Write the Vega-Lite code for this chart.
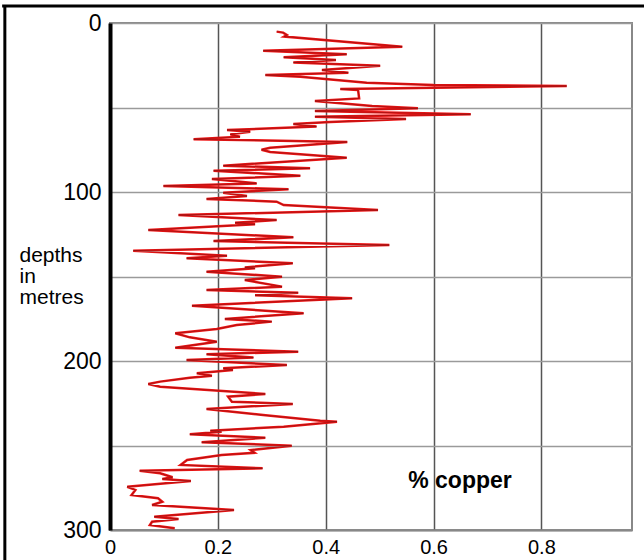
{
  "$schema": "https://vega.github.io/schema/vega-lite/v6.json",
  "width": 522,
  "height": 507,
  "autosize": "none",
  "padding": {"left": 110, "top": 23, "right": 12, "bottom": 30},
  "background": "white",
  "config": {
    "view": {"stroke": "#888888", "strokeWidth": 2},
    "font": "Liberation Sans"
  },
  "datasets": {
    "log": [
      {"depth": 5.1, "cu": 0.309},
      {"depth": 5.7, "cu": 0.321},
      {"depth": 7.1, "cu": 0.328},
      {"depth": 8.0, "cu": 0.323},
      {"depth": 14.0, "cu": 0.542},
      {"depth": 16.4, "cu": 0.284},
      {"depth": 18.5, "cu": 0.439},
      {"depth": 20.3, "cu": 0.322},
      {"depth": 21.9, "cu": 0.419},
      {"depth": 23.3, "cu": 0.340},
      {"depth": 25.3, "cu": 0.501},
      {"depth": 27.8, "cu": 0.393},
      {"depth": 29.4, "cu": 0.442},
      {"depth": 30.8, "cu": 0.288},
      {"depth": 31.8, "cu": 0.353},
      {"depth": 35.3, "cu": 0.476},
      {"depth": 36.7, "cu": 0.600},
      {"depth": 37.3, "cu": 0.847},
      {"depth": 39.1, "cu": 0.427},
      {"depth": 39.6, "cu": 0.460},
      {"depth": 44.6, "cu": 0.462},
      {"depth": 46.2, "cu": 0.380},
      {"depth": 49.1, "cu": 0.486},
      {"depth": 50.5, "cu": 0.571},
      {"depth": 52.1, "cu": 0.380},
      {"depth": 54.0, "cu": 0.669},
      {"depth": 55.4, "cu": 0.380},
      {"depth": 56.8, "cu": 0.549},
      {"depth": 58.6, "cu": 0.408},
      {"depth": 59.8, "cu": 0.340},
      {"depth": 61.3, "cu": 0.383},
      {"depth": 63.3, "cu": 0.217},
      {"depth": 64.3, "cu": 0.260},
      {"depth": 65.9, "cu": 0.223},
      {"depth": 67.3, "cu": 0.241},
      {"depth": 68.8, "cu": 0.155},
      {"depth": 70.4, "cu": 0.440},
      {"depth": 73.8, "cu": 0.297},
      {"depth": 75.0, "cu": 0.281},
      {"depth": 76.3, "cu": 0.297},
      {"depth": 79.7, "cu": 0.439},
      {"depth": 84.4, "cu": 0.210},
      {"depth": 86.0, "cu": 0.371},
      {"depth": 87.4, "cu": 0.192},
      {"depth": 90.4, "cu": 0.353},
      {"depth": 92.3, "cu": 0.189},
      {"depth": 94.9, "cu": 0.272},
      {"depth": 96.4, "cu": 0.099},
      {"depth": 98.4, "cu": 0.331},
      {"depth": 100.4, "cu": 0.210},
      {"depth": 102.4, "cu": 0.254},
      {"depth": 104.1, "cu": 0.179},
      {"depth": 105.7, "cu": 0.309},
      {"depth": 107.7, "cu": 0.322},
      {"depth": 110.7, "cu": 0.497},
      {"depth": 113.6, "cu": 0.127},
      {"depth": 116.6, "cu": 0.309},
      {"depth": 118.2, "cu": 0.232},
      {"depth": 119.1, "cu": 0.269},
      {"depth": 122.5, "cu": 0.071},
      {"depth": 126.8, "cu": 0.340},
      {"depth": 129.0, "cu": 0.192},
      {"depth": 131.4, "cu": 0.518},
      {"depth": 134.7, "cu": 0.043},
      {"depth": 137.7, "cu": 0.217},
      {"depth": 139.2, "cu": 0.142},
      {"depth": 142.2, "cu": 0.339},
      {"depth": 144.6, "cu": 0.250},
      {"depth": 145.1, "cu": 0.269},
      {"depth": 147.2, "cu": 0.179},
      {"depth": 150.1, "cu": 0.319},
      {"depth": 152.1, "cu": 0.250},
      {"depth": 156.0, "cu": 0.319},
      {"depth": 158.0, "cu": 0.179},
      {"depth": 159.6, "cu": 0.349},
      {"depth": 161.1, "cu": 0.269},
      {"depth": 162.9, "cu": 0.449},
      {"depth": 167.3, "cu": 0.152},
      {"depth": 171.8, "cu": 0.359},
      {"depth": 175.1, "cu": 0.213},
      {"depth": 176.7, "cu": 0.300},
      {"depth": 178.7, "cu": 0.235},
      {"depth": 181.1, "cu": 0.198},
      {"depth": 183.6, "cu": 0.121},
      {"depth": 186.0, "cu": 0.148},
      {"depth": 188.6, "cu": 0.198},
      {"depth": 192.1, "cu": 0.121},
      {"depth": 194.5, "cu": 0.349},
      {"depth": 196.0, "cu": 0.179},
      {"depth": 198.0, "cu": 0.266},
      {"depth": 199.4, "cu": 0.142},
      {"depth": 202.4, "cu": 0.328},
      {"depth": 204.3, "cu": 0.210},
      {"depth": 205.3, "cu": 0.228},
      {"depth": 207.3, "cu": 0.161},
      {"depth": 208.7, "cu": 0.189},
      {"depth": 209.9, "cu": 0.148},
      {"depth": 212.2, "cu": 0.093},
      {"depth": 213.6, "cu": 0.071},
      {"depth": 215.2, "cu": 0.093},
      {"depth": 219.5, "cu": 0.288},
      {"depth": 221.1, "cu": 0.219},
      {"depth": 224.1, "cu": 0.226},
      {"depth": 225.4, "cu": 0.339},
      {"depth": 228.4, "cu": 0.179},
      {"depth": 232.0, "cu": 0.284},
      {"depth": 235.3, "cu": 0.390},
      {"depth": 235.9, "cu": 0.421},
      {"depth": 238.9, "cu": 0.322},
      {"depth": 241.2, "cu": 0.186},
      {"depth": 241.8, "cu": 0.207},
      {"depth": 243.4, "cu": 0.148},
      {"depth": 245.4, "cu": 0.288},
      {"depth": 248.1, "cu": 0.170},
      {"depth": 250.1, "cu": 0.337},
      {"depth": 252.7, "cu": 0.261},
      {"depth": 254.3, "cu": 0.268},
      {"depth": 255.6, "cu": 0.207},
      {"depth": 258.6, "cu": 0.143},
      {"depth": 261.5, "cu": 0.131},
      {"depth": 263.5, "cu": 0.283},
      {"depth": 264.9, "cu": 0.055},
      {"depth": 266.4, "cu": 0.093},
      {"depth": 268.8, "cu": 0.116},
      {"depth": 269.8, "cu": 0.097},
      {"depth": 271.0, "cu": 0.150},
      {"depth": 274.4, "cu": 0.032},
      {"depth": 276.3, "cu": 0.047},
      {"depth": 279.3, "cu": 0.040},
      {"depth": 281.2, "cu": 0.089},
      {"depth": 283.3, "cu": 0.097},
      {"depth": 285.2, "cu": 0.078},
      {"depth": 288.2, "cu": 0.230},
      {"depth": 292.1, "cu": 0.082},
      {"depth": 293.5, "cu": 0.127},
      {"depth": 295.1, "cu": 0.078},
      {"depth": 297.0, "cu": 0.074},
      {"depth": 299.0, "cu": 0.120}
    ],
    "one": [{"label": "% copper"}]
  },
  "layer": [
    {
      "data": {"name": "log"},
      "mark": {"type": "line", "color": "#f01414", "strokeWidth": 2.5},
      "encoding": {
        "x": {
          "field": "cu", "type": "quantitative",
          "scale": {"domain": [0, 0.968], "nice": false, "zero": false},
          "axis": {
            "values": [0, 0.2, 0.4, 0.6, 0.8],
            "format": ".1~f",
            "title": null,
            "grid": true, "gridColor": "#555555", "gridWidth": 1.5, "gridOpacity": 1,
            "domainColor": "#888888", "domainWidth": 2,
            "ticks": false,
            "labelFontSize": 20, "labelColor": "#000000", "labelPadding": 7,
            "labelFlush": false, "labelOverlap": false, "labelBound": false
          }
        },
        "y": {
          "field": "depth", "type": "quantitative",
          "scale": {"domain": [0, 300], "nice": false, "reverse": true, "zero": false},
          "axis": {
            "values": [0, 50, 100, 150, 200, 250, 300],
            "labelExpr": "datum.value % 100 === 0 ? datum.label : ''",
            "title": ["depths", "in", "metres"],
            "titleAngle": 0, "titleAlign": "left", "titleBaseline": "alphabetic",
            "titleX": -91, "titleY": 238, "titleFontSize": 21, "titleFontWeight": "normal",
            "titleColor": "#000000", "titleLineHeight": 21,
            "grid": true, "gridColor": "#9a9a9a", "gridWidth": 1.5, "gridOpacity": 1,
            "domainColor": "#000000", "domainWidth": 4,
            "ticks": false,
            "labelFontSize": 23, "labelColor": "#000000", "labelPadding": 9,
            "labelFlush": false, "labelOverlap": false, "labelBound": false
          }
        },
        "order": {"field": "depth", "type": "quantitative"}
      }
    },
    {
      "data": {"name": "log"},
      "mark": {"type": "line", "color": "#5a1010", "strokeWidth": 0.6, "opacity": 0.7},
      "encoding": {
        "x": {"field": "cu", "type": "quantitative"},
        "y": {"field": "depth", "type": "quantitative"},
        "order": {"field": "depth", "type": "quantitative"}
      }
    },
    {
      "data": {"name": "one"},
      "mark": {"type": "text", "fontSize": 23, "fontWeight": "bold", "color": "#000000", "align": "center", "baseline": "middle"},
      "encoding": {
        "text": {"field": "label"},
        "x": {"datum": 0.649, "type": "quantitative"},
        "y": {"datum": 271, "type": "quantitative"}
      }
    },
    {
      "data": {"name": "one"},
      "mark": {"type": "rule", "color": "#000000", "strokeWidth": 3, "clip": false},
      "encoding": {
        "x": {"datum": -0.2, "type": "quantitative"},
        "x2": {"datum": 1.2},
        "y": {"datum": -10, "type": "quantitative"}
      }
    },
    {
      "data": {"name": "one"},
      "mark": {"type": "rule", "color": "#000000", "strokeWidth": 3, "clip": false},
      "encoding": {
        "x": {"datum": -0.195, "type": "quantitative"},
        "y": {"datum": -10, "type": "quantitative"},
        "y2": {"datum": 330}
      }
    }
  ]
}
